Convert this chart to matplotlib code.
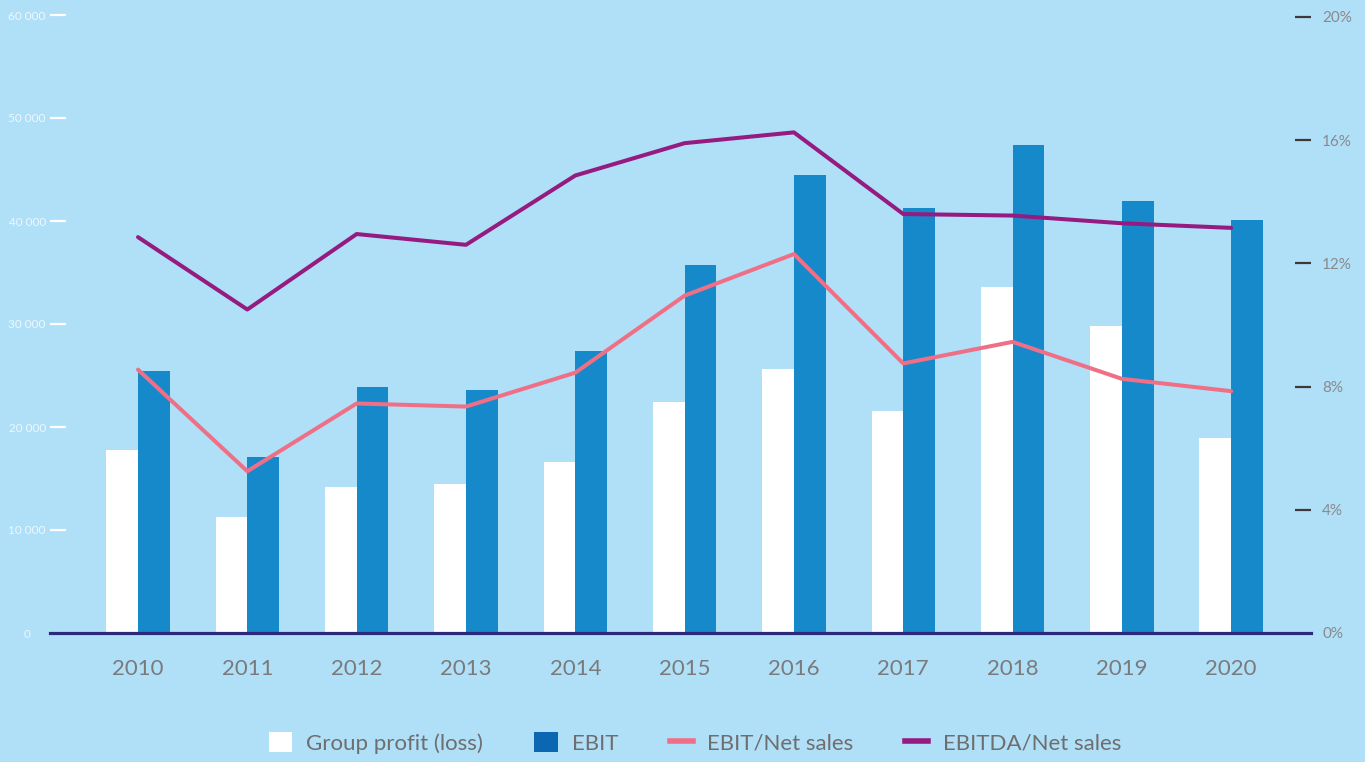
import matplotlib
matplotlib.use("Agg")
import matplotlib.pyplot as plt
import numpy as np
from matplotlib.patches import Patch
from matplotlib.lines import Line2D

years = ["2010", "2011", "2012", "2013", "2014", "2015", "2016", "2017", "2018", "2019", "2020"]
group_profit = [17800, 11300, 14200, 14500, 16600, 22400, 25600, 21600, 33600, 29800, 18900]
ebit = [25400, 17100, 23900, 23600, 27400, 35700, 44500, 41300, 47400, 41900, 40100]
ebit_margin = [8.55, 5.25, 7.45, 7.35, 8.45, 10.95, 12.3, 8.75, 9.45, 8.25, 7.85]
ebitda_margin = [12.85, 10.5, 12.95, 12.6, 14.85, 15.9, 16.25, 13.6, 13.55, 13.3, 13.15]

left_ticks = [10000, 20000, 30000, 40000, 50000, 60000]
left_labels = ["10 000", "20 000", "30 000", "40 000", "50 000", "60 000"]
right_ticks = [4, 8, 12, 16, 20]
right_labels = ["4%", "8%", "12%", "16%", "20%"]

BG = "#b0dff8"
BLUE = "#1689cb"
PINK = "#ef7086"
PURPLE = "#951b81"
NAVY = "#2b2a7a"
GRAY = "#7a7a7a"
FONT = ["Lato", "DejaVu Sans"]

plt.rcParams["font.family"] = FONT

fig = plt.figure(figsize=(13.65, 7.62), dpi=100, facecolor=BG)
ax = fig.add_axes([50/1365, 129/762, 1261/1365, 618/762])
ax.set_facecolor(BG)

x = np.arange(len(years))
w = 0.29
ax.bar(x - w/2, group_profit, width=w, color="white", zorder=2)
ax.bar(x + w/2, ebit, width=w, color=BLUE, zorder=2)

ax.set_xlim(-0.805, 10.73)
ax.set_ylim(0, 60000)
ax.set_xticks(x)
ax.set_xticklabels(years, fontsize=16, color=GRAY)
ax.tick_params(axis="x", length=0, pad=19)

ax.set_yticks(left_ticks)
ax.set_yticklabels(left_labels, fontsize=8.5, color="#eef8fd")
ax.set_yticks([0], minor=True)
ax.set_yticklabels(["0"], minor=True, fontsize=8.5, color="#eef8fd")
ax.tick_params(axis="y", which="major", direction="in", length=11.5, width=1.6,
               color="white", pad=3)
ax.tick_params(axis="y", which="minor", length=0, pad=14)

for s in ["top", "left", "right"]:
    ax.spines[s].set_visible(False)
ax.spines["bottom"].set_color(NAVY)
ax.spines["bottom"].set_linewidth(2.3)
ax.spines["bottom"].set_zorder(5)

ax2 = ax.twinx()
ax2.set_ylim(0, 20.06)
ax2.plot(x, ebit_margin, color=PINK, lw=2.9, solid_capstyle="round", zorder=3)
ax2.plot(x, ebitda_margin, color=PURPLE, lw=2.9, solid_capstyle="round", zorder=3)
for s in ["top", "left", "right", "bottom"]:
    ax2.spines[s].set_visible(False)
ax2.set_yticks(right_ticks)
ax2.set_yticklabels(right_labels, fontsize=11, color="#8a8a8a")
ax2.set_yticks([0], minor=True)
ax2.set_yticklabels(["0%"], minor=True, fontsize=11, color="#8a8a8a")
ax2.tick_params(axis="y", which="major", direction="in", length=11.5, width=1.6,
                color="#3a3a3a", pad=8)
ax2.tick_params(axis="y", which="minor", length=0, pad=8)

handles = [
    Patch(facecolor="white", edgecolor="none"),
    Patch(facecolor="#0c67b3", edgecolor="none"),
    Line2D([], [], color=PINK, lw=4),
    Line2D([], [], color=PURPLE, lw=4),
]
labels = ["Group profit (loss)", "EBIT", "EBIT/Net sales", "EBITDA/Net sales"]
leg = fig.legend(handles, labels, loc="center", bbox_to_anchor=(0.509, 0.025), ncol=4,
                 frameon=False, fontsize=16, handlelength=1.05, handleheight=1.0,
                 handletextpad=0.65, columnspacing=2.3, borderaxespad=0)
for t in leg.get_texts():
    t.set_color("#6e6e6e")

fig.savefig("out.png", dpi=100, facecolor=BG)
